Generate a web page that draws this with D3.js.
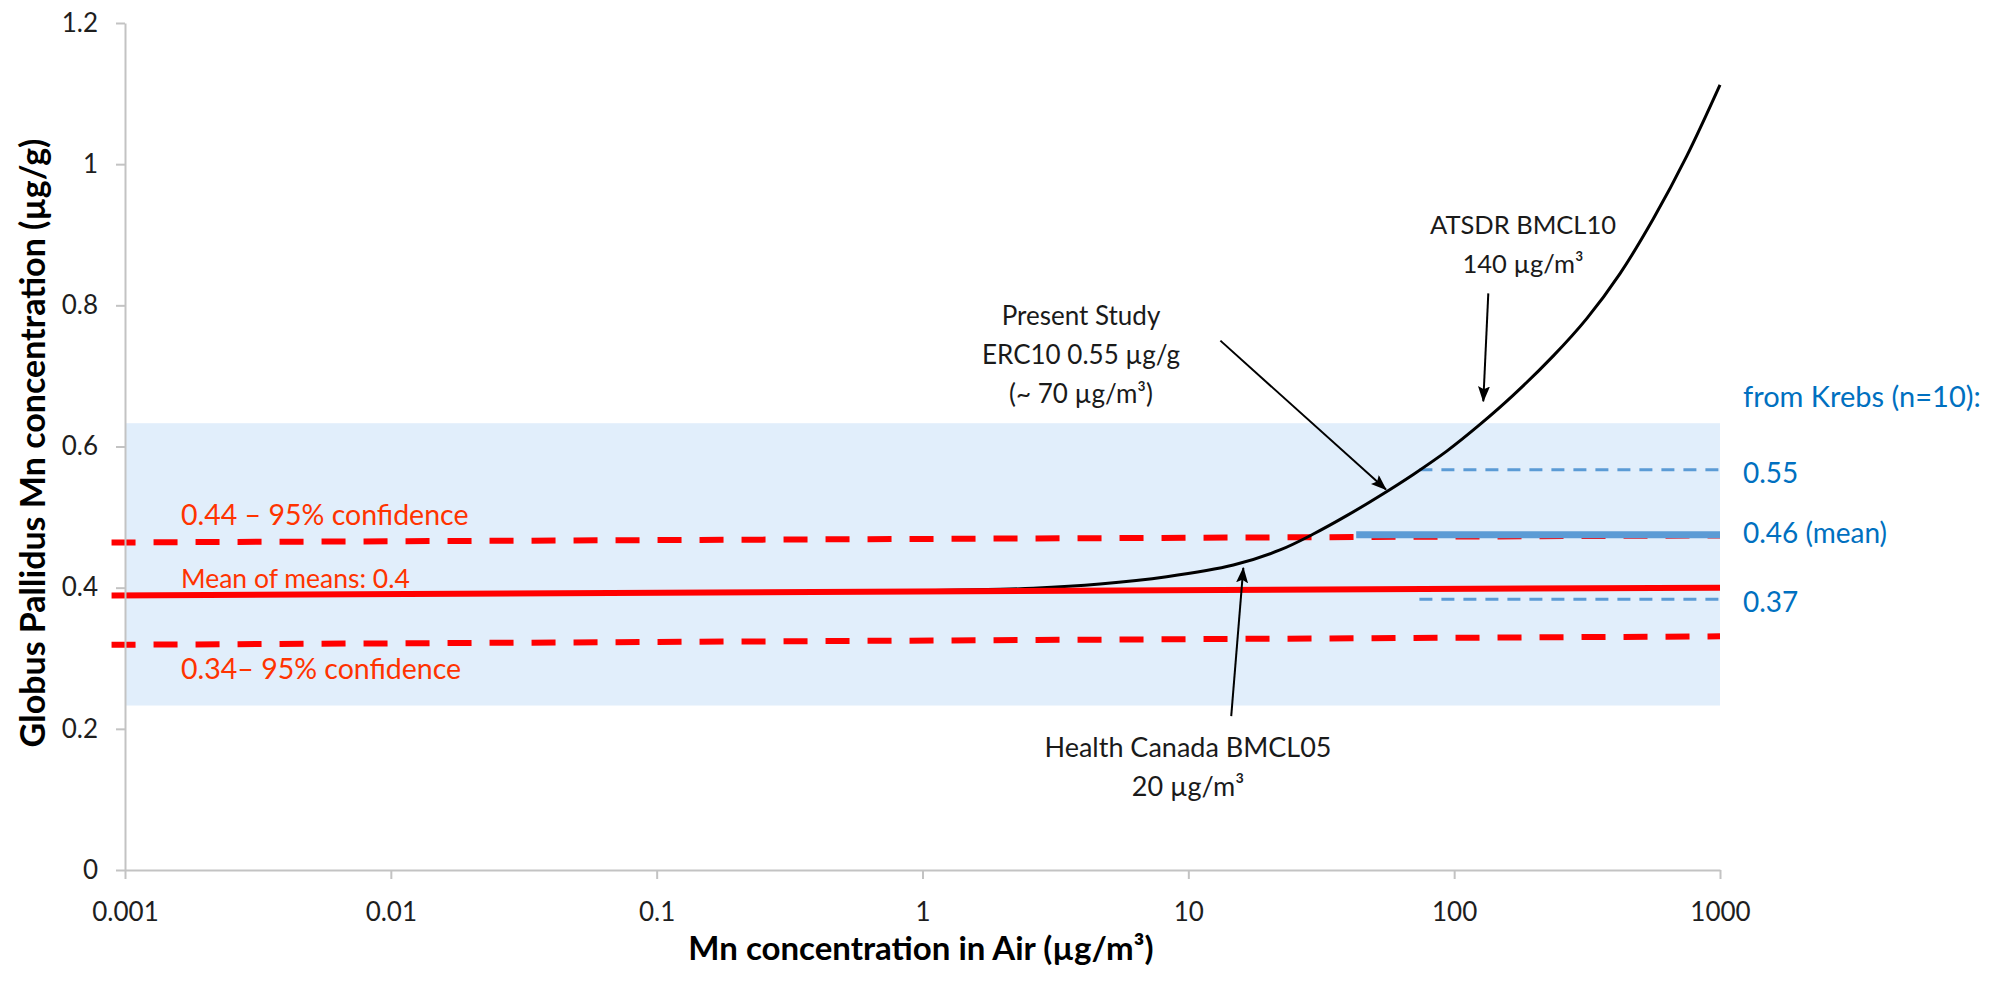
<!DOCTYPE html>
<html>
<head>
<meta charset="utf-8">
<script src="https://cdn.jsdelivr.net/npm/d3@7"></script>
<style>
  body { margin: 0; background: #fff; }
  text { font-family: Lato, "Open Sans", sans-serif; }
  .tick text { fill: #1e1e1e; }
  .axis path, .axis line { stroke: #c3c3c3; stroke-width: 2; }
</style>
</head>
<body>
<div id="chart"></div>
<script>
'use strict'

// tick values of both axes
var xTicks = [0.001, 0.01, 0.1, 1, 10, 100, 1000]
var yTicks = [0, 0.2, 0.4, 0.6, 0.8, 1, 1.2]

// model curve: [air Mn, globus pallidus Mn]
var curveX = [0.6, 1.96, 2.61, 4.65, 8.29, 14.77, 22.13, 29.53, 39.43, 52.6, 70.2, 93.8, 125.1, 166.9, 236, 315.2, 420.6, 561.3, 749.6, 1000]
var curveY = [0.394, 0.3977, 0.3991, 0.4052, 0.4156, 0.4321, 0.4534, 0.4760, 0.5020, 0.5303, 0.5605, 0.5935, 0.6313, 0.6728, 0.7284, 0.7812, 0.8450, 0.9226, 1.0113, 1.1122]

// mean of means with 95% confidence lines (start / end values)
var lineX = [0.00089, 1000]
var meanY = [0.389, 0.400]
var upperY = [0.464, 0.474]
var lowerY = [0.319, 0.331]

// Krebs range (shaded) and Krebs values
var bandY = [0.233, 0.633]
var krebsMeanX = [42.8, 1000]
var krebsMean = 0.475
var krebsDashX = [74, 1000]
var krebsHigh = 0.567
var krebsLow = 0.3835
var krebsLabels = ["0.55", "0.46 (mean)", "0.37"]

// annotation arrows: from [x, y] to [x, y]
var arrows = [
    {from: [134.4, 0.817], to: [128.7, 0.664]},   // ATSDR
    {from: [13.2, 0.750], to: [55.4, 0.539]},     // Present study
    {from: [14.5, 0.218], to: [16.1, 0.428]}      // Health Canada
]

var width = 2004
var height = 981

const svg = d3.select("#chart")
              .append("svg")
              .attr("width", width)
              .attr("height", height)

// 1. scales
var xScale = d3.scaleLog().domain([0.001, 1000]).range([125, 1720])
var yScale = d3.scaleLinear().domain([0, 1.2]).range([870, 23])

// 2. shaded Krebs band
svg.append("rect")
   .attr("x", xScale(0.001))
   .attr("y", yScale(bandY[1]))
   .attr("width", xScale(1000) - xScale(0.001))
   .attr("height", yScale(bandY[0]) - yScale(bandY[1]))
   .attr("fill", "#e1eefb")

// 3. red confidence lines
function hline(xs, ys, color, w, dash){
    svg.append("line")
       .attr("x1", xScale(xs[0])).attr("x2", xScale(xs[1]))
       .attr("y1", yScale(ys[0])).attr("y2", yScale(ys[1]))
       .attr("stroke", color)
       .attr("stroke-width", w)
       .attr("stroke-dasharray", dash)
}

hline(lineX, upperY, "#ff0000", 6, "24,18")
hline(lineX, lowerY, "#ff0000", 6, "24,18")

// 4. Krebs lines
hline(krebsDashX, [krebsHigh, krebsHigh], "#5b9bd5", 3, "13,9")
hline(krebsDashX, [krebsLow, krebsLow], "#5b9bd5", 3, "13,9")
hline(krebsMeanX, [krebsMean, krebsMean], "#5b9bd5", 7, null)

// 5. model curve, then the mean line over it
var line = d3.line()
             .x((d) => xScale(d[0]))
             .y((d) => yScale(d[1]))
             .curve(d3.curveCatmullRom.alpha(0.5))

svg.append("path")
   .datum(d3.zip(curveX, curveY))
   .attr("d", line)
   .attr("fill", "none")
   .attr("stroke", "#000")
   .attr("stroke-width", 3)

hline(lineX, meanY, "#ff0000", 6, null)

// 6. arrows
svg.append("defs").append("marker")
   .attr("id", "head")
   .attr("markerUnits", "userSpaceOnUse")
   .attr("markerWidth", 16)
   .attr("markerHeight", 12)
   .attr("refX", 15)
   .attr("refY", 6)
   .attr("orient", "auto")
   .append("path")
   .attr("d", "M0,0 L16,6 L0,12 L3,6 Z")
   .attr("fill", "#000")

svg.selectAll("arrows")
   .data(arrows)
   .enter()
   .append("line")
   .attr("x1", (d) => xScale(d.from[0]))
   .attr("y1", (d) => yScale(d.from[1]))
   .attr("x2", (d) => xScale(d.to[0]))
   .attr("y2", (d) => yScale(d.to[1]))
   .attr("stroke", "#000")
   .attr("stroke-width", 2)
   .attr("marker-end", "url(#head)")

// 7. axes
var xAxis = d3.axisBottom(xScale).tickValues(xTicks).tickFormat((d) => d3.format("~g")(d))
              .tickSize(9).tickSizeOuter(0).tickPadding(24)
var yAxis = d3.axisLeft(yScale).tickValues(yTicks).tickFormat((d) => d3.format("~g")(d))
              .tickSize(9).tickSizeOuter(0).tickPadding(18)

svg.append("g")
   .attr("class", "axis")
   .attr("transform", "translate(0," + yScale(0) + ")")
   .call(xAxis)
   .selectAll("text").style("font-size", "26px")

svg.append("g")
   .attr("class", "axis")
   .attr("transform", "translate(" + xScale(0.001) + ",0)")
   .call(yAxis)
   .selectAll("text").style("font-size", "26px")

svg.append("text")
   .attr("x", 921)
   .attr("y", 960)
   .attr("text-anchor", "middle")
   .style("font-size", "33px")
   .style("font-weight", "bold")
   .text("Mn concentration in Air (µg/m³)")

svg.append("text")
   .attr("transform", "translate(45,443) rotate(-90)")
   .attr("text-anchor", "middle")
   .style("font-size", "34px")
   .style("font-weight", "bold")
   .text("Globus Pallidus Mn concentration (µg/g)")

// 8. labels
function label(x, y, lines, color, size, anchor){
    var t = svg.append("text")
               .attr("x", x).attr("y", y)
               .attr("text-anchor", anchor)
               .attr("fill", color)
               .style("font-size", size + "px")
    lines.forEach(function(s, i){
        t.append("tspan").attr("x", x).attr("dy", i == 0 ? 0 : 39).text(s)
    })
}

label(181, 525, ["0.44 – 95% confidence"], "#ff3300", 28.5, "start")
label(181, 588, ["Mean of means: 0.4"], "#ff3300", 26.5, "start")
label(181, 679, ["0.34– 95% confidence"], "#ff3300", 28.5, "start")

label(1743, 407, ["from Krebs (n=10):"], "#0070c0", 29, "start")
label(1743, yScale(krebsHigh) + 13, [krebsLabels[0]], "#0070c0", 28, "start")
label(1743, yScale(krebsMean) + 8, [krebsLabels[1]], "#0070c0", 28, "start")
label(1743, yScale(krebsLow) + 13, [krebsLabels[2]], "#0070c0", 28, "start")

label(1523, 234, ["ATSDR BMCL10", "140 µg/m³"], "#1a1a1a", 25.5, "middle")
label(1081, 325, ["Present Study", "ERC10 0.55 µg/g", "(~ 70 µg/m³)"], "#1a1a1a", 26, "middle")
label(1188, 757, ["Health Canada BMCL05", "20 µg/m³"], "#1a1a1a", 27, "middle")
</script>
</body>
</html>
